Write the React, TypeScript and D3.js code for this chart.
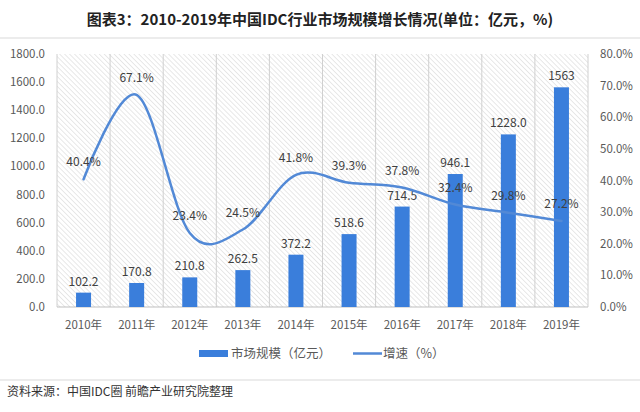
import React from "react";
import * as d3 from "d3";

const years = ["2010年", "2011年", "2012年", "2013年", "2014年", "2015年", "2016年", "2017年", "2018年", "2019年"];
const marketSize = [102.2, 170.8, 210.8, 262.5, 372.2, 518.6, 714.5, 946.1, 1228.0, 1563];
const marketLabels = ["102.2", "170.8", "210.8", "262.5", "372.2", "518.6", "714.5", "946.1", "1228.0", "1563"];
const growth = [40.4, 67.1, 23.4, 24.5, 41.8, 39.3, 37.8, 32.4, 29.8, 27.2];
const leftTicks = [0, 200, 400, 600, 800, 1000, 1200, 1400, 1600, 1800];
const rightTicks = [0, 10, 20, 30, 40, 50, 60, 70, 80];
const title = "图表3：2010-2019年中国IDC行业市场规模增长情况(单位：亿元，%)";
const source = "资料来源：中国IDC圈 前瞻产业研究院整理";
const legendBar = "市场规模（亿元）";
const legendLine = "增速（%）";

const W = 640, H = 412;
const L = 57, R = 588, T = 54, B = 307;
const font = "'Noto Sans CJK SC', 'Noto Sans', sans-serif";

export default function App() {
  const x = d3.scaleBand<string>().domain(years).range([L, R]).padding(0);
  const yL = d3.scaleLinear().domain([0, 1800]).range([B, T]);
  const yR = d3.scaleLinear().domain([0, 80]).range([B, T]);
  const barW = 15;
  const cx = (i: number) => (x(years[i]) as number) + x.bandwidth() / 2;
  const line = d3
    .line<number>()
    .x((_, i) => cx(i))
    .y((d) => yR(d))
    .curve(d3.curveCatmullRom.alpha(0));
  const barColor = "#3a7edb";
  const lineColor = "#5289d6";
  const textColor = "#404040";
  const axisColor = "#595959";

  return (
    <svg width={W} height={H} style={{ position: "absolute", left: 0, top: 0, background: "#fff" }} fontFamily={font}>
      <defs>
        <pattern id="hatch" width="3.5" height="3.5" patternUnits="userSpaceOnUse" patternTransform="rotate(-45)">
          <rect width="3.5" height="3.5" fill="#ffffff" />
          <line x1="0" y1="0" x2="0" y2="3.5" stroke="#d2d2d2" strokeWidth="1" />
        </pattern>
      </defs>
      <rect x={0} y={0} width={W} height={H} fill="#fff" />
      <text x={W / 2} y={25} textAnchor="middle" fontSize={15} fontWeight="bold" fill="#222">
        {title}
      </text>
      <line x1={0} x2={W} y1={38} y2={38} stroke="#e6e6e6" strokeWidth={1.5} />

      <rect x={L} y={T} width={R - L} height={B - T} fill="url(#hatch)" />
      {years.map((y, i) => (
        <line key={"g" + i} x1={(x(y) as number) + x.bandwidth()} x2={(x(y) as number) + x.bandwidth()} y1={T} y2={B} stroke="#d0d0d0" strokeWidth={1} />
      ))}
      <line x1={L} x2={L} y1={T} y2={B} stroke="#d0d0d0" />
      <line x1={L} x2={R} y1={B} y2={B} stroke="#bfbfbf" strokeWidth={1} />

      {leftTicks.map((t) => (
        <text key={"l" + t} x={45} y={yL(t)} dy="0.35em" textAnchor="end" fontSize={11.5} fill={axisColor}>
          {t.toFixed(1)}
        </text>
      ))}
      {rightTicks.map((t) => (
        <text key={"r" + t} x={600} y={yR(t)} dy="0.35em" textAnchor="start" fontSize={11.5} fill={axisColor}>
          {t.toFixed(1) + "%"}
        </text>
      ))}
      {years.map((y, i) => (
        <text key={"x" + i} x={cx(i)} y={325} dy="0.35em" textAnchor="middle" fontSize={11.5} fill={axisColor}>
          {y}
        </text>
      ))}

      {marketSize.map((v, i) => (
        <rect key={"b" + i} x={cx(i) - barW / 2} y={yL(v)} width={barW} height={B - yL(v)} fill={barColor} />
      ))}
      {marketSize.map((v, i) => (
        <text key={"bl" + i} x={cx(i)} y={yL(v) - 7} textAnchor="middle" fontSize={12} fill={textColor}>
          {marketLabels[i]}
        </text>
      ))}

      <path d={line(growth) || ""} fill="none" stroke={lineColor} strokeWidth={2.5} strokeLinecap="round" />
      {growth.map((v, i) => (
        <text key={"pl" + i} x={cx(i)} y={yR(v) - 17} dy="0.35em" textAnchor="middle" fontSize={12} fill={textColor}>
          {v.toFixed(1) + "%"}
        </text>
      ))}

      <rect x={199} y={350} width={29} height={7} fill={barColor} />
      <text x={231} y={353.5} dy="0.35em" fontSize={12.5} fill={axisColor}>
        {legendBar}
      </text>
      <line x1={353} x2={382} y1={353.5} y2={353.5} stroke={lineColor} strokeWidth={2.5} />
      <text x={383} y={353.5} dy="0.35em" fontSize={12.5} fill={axisColor}>
        {legendLine}
      </text>

      <line x1={0} x2={W} y1={380} y2={380} stroke="#e6e6e6" strokeWidth={1.5} />
      <text x={7} y={392} dy="0.35em" fontSize={12} fill="#333">
        {source}
      </text>
    </svg>
  );
}
